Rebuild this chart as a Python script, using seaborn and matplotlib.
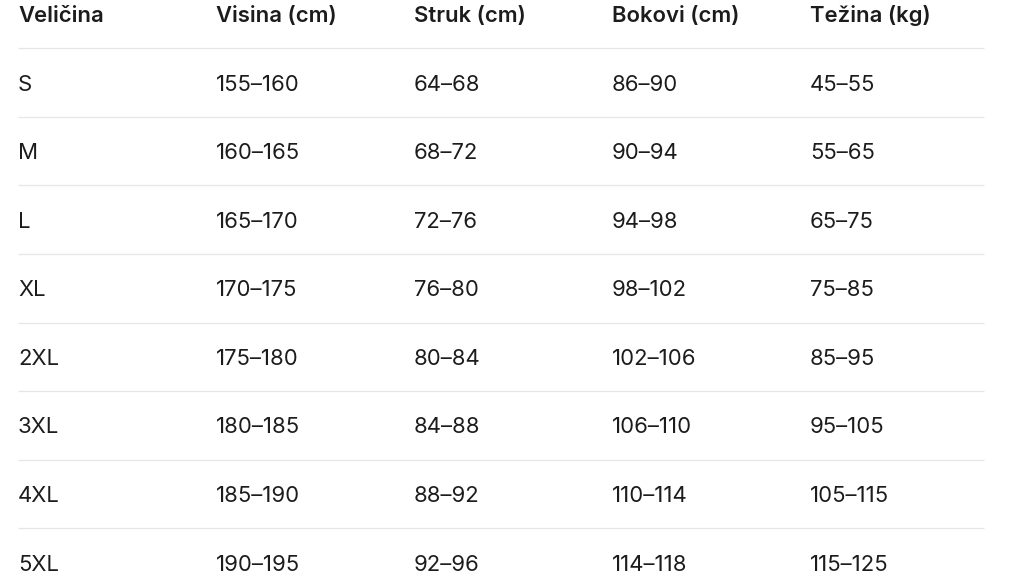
import matplotlib
matplotlib.use("Agg")
import matplotlib.pyplot as plt
import matplotlib.transforms as mtransforms
import seaborn as sns

headers = ["Veličina", "Visina (cm)", "Struk (cm)", "Bokovi (cm)", "Težina (kg)"]
sizes = ["S", "M", "L", "XL", "2XL", "3XL", "4XL", "5XL"]
visina = ["155–160", "160–165", "165–170", "170–175", "175–180", "180–185", "185–190", "190–195"]
struk = ["64–68", "68–72", "72–76", "76–80", "80–84", "84–88", "88–92", "92–96"]
bokovi = ["86–90", "90–94", "94–98", "98–102", "102–106", "106–110", "110–114", "114–118"]
tezina = ["45–55", "55–65", "65–75", "75–85", "85–95", "95–105", "105–115", "115–125"]

sns.set_theme(style="white")
plt.rcParams["font.family"] = ["Inter", "DejaVu Sans"]

W, H = 1025, 577
fig = plt.figure(figsize=(W / 100, H / 100), dpi=100)
ax = fig.add_axes([0, 0, 1, 1])

col_px = 198.0
row_px = 68.57
x0_px = 18.0
y0_px = 14.0
ax.set_xlim(-x0_px / col_px, (W - x0_px) / col_px)
ax.set_ylim((H - y0_px) / row_px, -y0_px / row_px)
ax.set_axis_off()
sns.despine(ax=ax, left=True, bottom=True)

fs = 15.9
txt_color = "#1c1c1e"
cap_half = 8.0
tr = mtransforms.offset_copy(ax.transData, fig=fig, x=0, y=-cap_half, units="dots")

columns = [sizes, visina, struk, bokovi, tezina]
for j, h in enumerate(headers):
    ax.text(j, 0, h, transform=tr, fontsize=fs, fontweight="semibold",
            color=txt_color, ha="left", va="baseline")
for j, col in enumerate(columns):
    for i, v in enumerate(col):
        ax.text(j, i + 1, v, transform=tr, fontsize=fs, color=txt_color,
                ha="left", va="baseline")

n_rows = len(sizes)
line_end = (984 - x0_px) / col_px
ax.hlines([i + 0.5 for i in range(n_rows)], 0, line_end,
          color="#e6e6e6", linewidth=0.9)

fig.savefig("out.png", dpi=100, facecolor="white")
